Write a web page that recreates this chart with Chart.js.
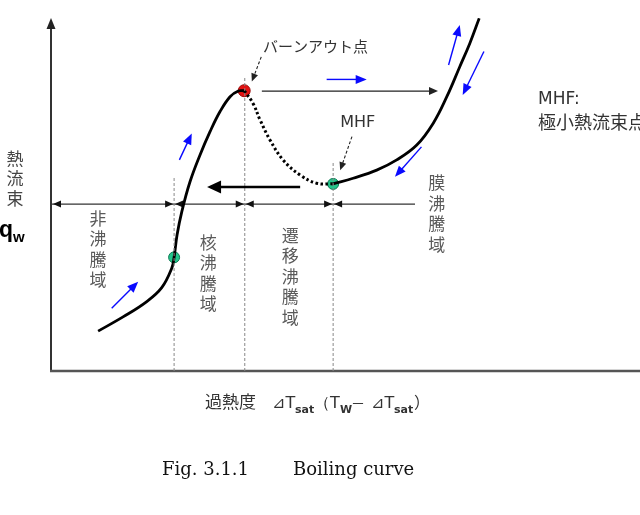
<!DOCTYPE html>
<html>
<head>
<meta charset="utf-8">
<script src="https://cdn.jsdelivr.net/npm/chart.js@4/dist/chart.umd.min.js"></script>
<style>
  html, body { margin: 0; padding: 0; background: #fff; }
  canvas { display: block; }
</style>
</head>
<body>
<canvas id="boilingCurve" width="640" height="515"></canvas>
<script>
// boiling curve, arbitrary units (0-100 on both axes)
const nucleateX = [8.0, 12.3, 16.2, 18.8, 20.5, 20.9, 21.4, 22.2, 23.6, 25.3, 27.0, 28.7, 30.4, 31.8, 32.8];
const nucleateY = [11.3, 15.4, 19.6, 23.6, 29.1, 32.2, 38.5, 45.1, 53.6, 61.2, 67.8, 73.5, 77.7, 79.3, 79.4];
const transitionX = [32.8, 34.3, 35.5, 37.2, 39.4, 42.3, 45.1, 47.9];
const transitionY = [79.4, 75.8, 71.1, 65.4, 59.8, 55.5, 53.2, 53.0];
const filmX = [47.9, 51.3, 55.3, 58.7, 62.1, 64.9, 67.2, 69.4, 71.1, 72.7];
const filmY = [53.0, 54.6, 56.9, 59.8, 64.0, 70.2, 77.7, 86.2, 92.8, 99.9];

// marked points: onset of boiling, burnout, MHF
const greenPointsX = [20.9, 47.9];
const greenPointsY = [32.2, 53.0];
const burnoutX = [32.8];
const burnoutY = [79.4];

// region boundaries
const boundaryX = [20.9, 32.9, 47.9];
const boundaryTop = [54.7, 83.0, 59.5];
const regionLineY = 47.3;
const regionLineEnd = 61.8;
const regionLabels = ['非沸騰域', '核沸騰域', '遷移沸騰域', '膜沸騰域'];
const regionLabelX = [8.0, 26.7, 40.6, 65.5];
const regionLabelTop = [43.3, 36.5, 38.5, 53.3];

// arrows [x1, y1, x2, y2]
const blueArrows = [
    [10.3, 17.8, 14.8, 25.3],
    [21.8, 59.8, 23.9, 67.3],
    [46.8, 82.6, 53.6, 82.6],
    [67.5, 86.7, 69.4, 98.0],
    [73.5, 90.5, 69.9, 78.2],
    [62.9, 63.5, 58.4, 55.0]
];
const thinBlackArrow = [35.8, 79.3, 65.7, 79.3];
const thickBlackArrow = [42.3, 52.1, 26.5, 52.1];
const calloutArrows = [
    [35.7, 89.0, 34.1, 82.0],
    [51.1, 66.4, 49.1, 56.9]
];

// annotation texts
const noteTexts = ['バーンアウト点', 'MHF', 'MHF:', '極小熱流束点'];
const noteX = [36.0, 49.1, 82.7, 82.7];
const noteY = [91.9, 70.3, 76.8, 70.5];

const toPoints = (xs, ys) => xs.map((x, i) => ({ x: x, y: ys[i] }));

const drawHead = (ctx, x1, y1, x2, y2, len, wid, color) => {
    const a = Math.atan2(y2 - y1, x2 - x1);
    ctx.save();
    ctx.fillStyle = color;
    ctx.translate(x2, y2);
    ctx.rotate(a);
    ctx.beginPath();
    ctx.moveTo(0, 0);
    ctx.lineTo(-len, wid / 2);
    ctx.lineTo(-len, -wid / 2);
    ctx.closePath();
    ctx.fill();
    ctx.restore();
};

const drawArrow = (ctx, x1, y1, x2, y2, color, lw, len, wid, dash) => {
    const a = Math.atan2(y2 - y1, x2 - x1);
    ctx.save();
    ctx.strokeStyle = color;
    ctx.lineWidth = lw;
    if (dash) ctx.setLineDash(dash);
    ctx.beginPath();
    ctx.moveTo(x1, y1);
    ctx.lineTo(x2 - Math.cos(a) * len * 0.8, y2 - Math.sin(a) * len * 0.8);
    ctx.stroke();
    ctx.restore();
    drawHead(ctx, x1, y1, x2, y2, len, wid, color);
};

const decorations = {
    id: 'decorations',
    beforeDatasetsDraw(chart) {
        const ctx = chart.ctx;
        const sx = chart.scales.x, sy = chart.scales.y;
        const area = chart.chartArea;
        const X = (v) => sx.getPixelForValue(v);
        const Y = (v) => sy.getPixelForValue(v);

        // axes
        ctx.save();
        ctx.strokeStyle = '#333';
        ctx.lineWidth = 2;
        ctx.beginPath();
        ctx.moveTo(area.left, area.bottom);
        ctx.lineTo(area.left, area.top + 8);
        ctx.stroke();
        ctx.strokeStyle = '#555';
        ctx.lineWidth = 2.5;
        ctx.beginPath();
        ctx.moveTo(area.left - 1, area.bottom);
        ctx.lineTo(area.right, area.bottom);
        ctx.stroke();
        ctx.restore();
        drawHead(ctx, area.left, area.top + 12, area.left, area.top, 11, 9, '#222');

        // region line with arrow heads at each boundary
        const ry = Y(regionLineY);
        ctx.save();
        ctx.strokeStyle = '#333';
        ctx.lineWidth = 1.2;
        ctx.beginPath();
        ctx.moveTo(area.left, ry);
        ctx.lineTo(X(regionLineEnd), ry);
        ctx.stroke();
        ctx.restore();
        drawHead(ctx, area.left + 10, ry, area.left + 2, ry, 8, 7, '#111');
        boundaryX.forEach((b) => {
            const bx = X(b);
            drawHead(ctx, bx - 10, ry, bx - 1, ry, 8, 7, '#111');
            drawHead(ctx, bx + 10, ry, bx + 1, ry, 8, 7, '#111');
        });

        // region labels (vertical)
        ctx.save();
        ctx.fillStyle = '#5a5a5a';
        ctx.font = '17px "Noto Sans CJK JP"';
        ctx.textAlign = 'center';
        ctx.textBaseline = 'middle';
        regionLabels.forEach((lab, i) => {
            [...lab].forEach((ch, j) => {
                ctx.fillText(ch, X(regionLabelX[i]), Y(regionLabelTop[i]) + j * 20.5);
            });
        });
        ctx.restore();
    },
    afterDatasetsDraw(chart) {
        const ctx = chart.ctx;
        const sx = chart.scales.x, sy = chart.scales.y;
        const area = chart.chartArea;
        const X = (v) => sx.getPixelForValue(v);
        const Y = (v) => sy.getPixelForValue(v);

        blueArrows.forEach((a) => drawArrow(ctx, X(a[0]), Y(a[1]), X(a[2]), Y(a[3]), '#0a0aff', 1.4, 11, 9));
        let a = thinBlackArrow;
        drawArrow(ctx, X(a[0]), Y(a[1]), X(a[2]), Y(a[3]), '#222', 1.3, 9, 8);
        a = thickBlackArrow;
        drawArrow(ctx, X(a[0]), Y(a[1]), X(a[2]), Y(a[3]), '#000', 2.5, 14, 13);
        calloutArrows.forEach((c) => drawArrow(ctx, X(c[0]), Y(c[1]), X(c[2]), Y(c[3]), '#222', 1.1, 8, 7, [3, 2]));

        // annotation texts
        ctx.save();
        ctx.fillStyle = '#333';
        ctx.textBaseline = 'middle';
        ctx.textAlign = 'left';
        ctx.font = '15px "Noto Sans CJK JP"';
        ctx.fillText(noteTexts[0], X(noteX[0]), Y(noteY[0]));
        ctx.font = '16px "DejaVu Sans"';
        ctx.fillText(noteTexts[1], X(noteX[1]), Y(noteY[1]));
        ctx.font = '17px "DejaVu Sans"';
        ctx.fillText(noteTexts[2], X(noteX[2]), Y(noteY[2]));
        ctx.font = '18px "Noto Sans CJK JP"';
        ctx.fillText(noteTexts[3], X(noteX[3]), Y(noteY[3]));

        // y axis title
        ctx.fillStyle = '#444';
        ctx.textAlign = 'center';
        ctx.font = '17px "Noto Sans CJK JP"';
        ['熱', '流', '束'].forEach((ch, i) => ctx.fillText(ch, 15, 159 + i * 20));
        ctx.fillStyle = '#000';
        ctx.textAlign = 'left';
        ctx.textBaseline = 'alphabetic';
        ctx.font = 'bold 23px "Liberation Sans"';
        ctx.fillText('q', -1, 237);
        ctx.font = 'bold 15px "Liberation Sans"';
        ctx.fillText('w', 13, 242);

        // x axis title
        ctx.fillStyle = '#333';
        const base = area.bottom + 37;
        const parts = [
            ['過熱度', 205, 0, '17px "Noto Sans CJK JP"'],
            ['⊿T', 272, 0, '16px "DejaVu Sans"'],
            ['sat', 295, 5, 'bold 11px "DejaVu Sans"'],
            ['（T', 314, 0, '16px "DejaVu Sans"'],
            ['W', 340, 5, 'bold 11px "DejaVu Sans"'],
            ['－', 351, 0, '14px "Noto Sans CJK JP"'],
            ['⊿T', 371, 0, '16px "DejaVu Sans"'],
            ['sat', 394, 5, 'bold 11px "DejaVu Sans"'],
            ['）', 414, 0, '16px "Noto Sans CJK JP"']
        ];
        parts.forEach((p) => {
            ctx.font = p[3];
            ctx.fillText(p[0], p[1], base + p[2]);
        });

        // caption
        ctx.fillStyle = '#111';
        ctx.font = '18px "DejaVu Serif"';
        ctx.fillText('Fig. 3.1.1', 162, 475);
        ctx.fillText('Boiling curve', 293, 475);
        ctx.restore();
    }
};

const boundarySets = boundaryX.map((b, i) => ({
    data: [{ x: b, y: 0 }, { x: b, y: boundaryTop[i] }],
    borderColor: '#888',
    borderWidth: 1,
    borderDash: [3, 2],
    pointRadius: 0,
    showLine: true
}));

new Chart(document.getElementById('boilingCurve').getContext('2d'), {
    type: 'scatter',
    data: {
        datasets: [
            ...boundarySets,
            {
                label: 'nucleate',
                data: toPoints(nucleateX, nucleateY),
                borderColor: '#000',
                borderWidth: 2.8,
                pointRadius: 0,
                showLine: true,
                tension: 0.4
            },
            {
                label: 'transition',
                data: toPoints(transitionX, transitionY),
                borderColor: '#000',
                borderWidth: 3,
                borderDash: [2.5, 2.5],
                pointRadius: 0,
                showLine: true,
                tension: 0.4
            },
            {
                label: 'film',
                data: toPoints(filmX, filmY),
                borderColor: '#000',
                borderWidth: 2.8,
                pointRadius: 0,
                showLine: true,
                tension: 0.4
            },
            {
                label: 'onset / MHF',
                data: toPoints(greenPointsX, greenPointsY),
                backgroundColor: '#22c58a',
                borderColor: '#0d7a55',
                borderWidth: 1,
                pointRadius: 5.5
            },
            {
                label: 'burnout',
                data: toPoints(burnoutX, burnoutY),
                backgroundColor: '#e31212',
                borderColor: '#9a0a0a',
                borderWidth: 1,
                pointRadius: 6
            }
        ]
    },
    options: {
        responsive: false,
        animation: false,
        devicePixelRatio: 1,
        layout: { autoPadding: false, padding: { left: 51, right: 0, top: 18, bottom: 144 } },
        scales: {
            x: { type: 'linear', min: 0, max: 100, display: false },
            y: { type: 'linear', min: 0, max: 100, display: false }
        },
        plugins: {
            legend: { display: false },
            tooltip: { enabled: false }
        }
    },
    plugins: [decorations]
});
</script>
</body>
</html>
